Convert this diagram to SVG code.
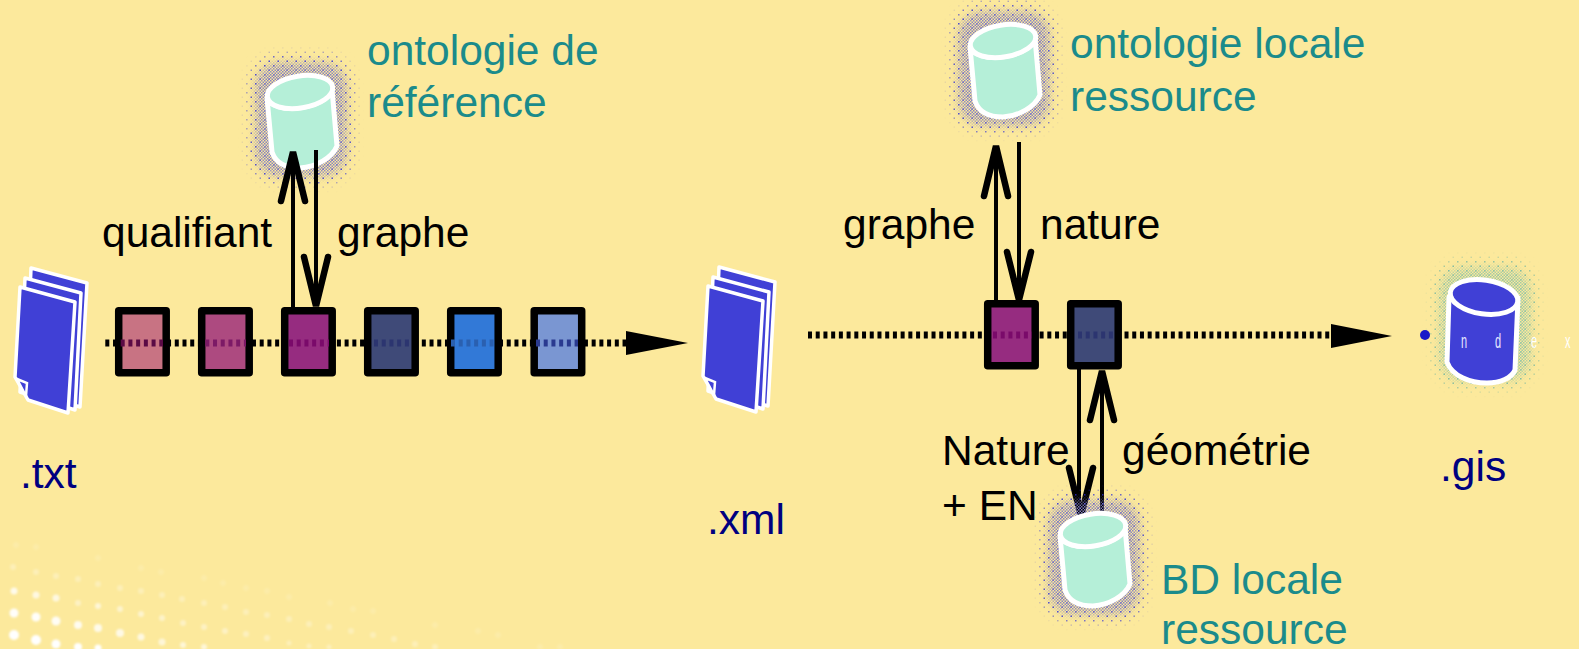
<svg xmlns="http://www.w3.org/2000/svg" width="1579" height="649" viewBox="0 0 1579 649">
<style>
text{font-family:"Liberation Sans",Arial,sans-serif;font-size:42.5px}
.blk{fill:#000}.teal{fill:#1b8b8b}.navy{fill:#000080}
.sq{stroke:#000;stroke-width:7.5;stroke-linejoin:round}
.dot{fill:none;stroke:#000;stroke-width:7;stroke-dasharray:4 3.72}
.in{fill:none;stroke-width:7;stroke-dasharray:4 3.72}
.sh{fill:none;stroke:#000;stroke-width:4}
.hd{fill:none;stroke:#000;stroke-width:6.5;stroke-linecap:round;stroke-linejoin:miter}
.page{fill:#3f3fd6;stroke:#fff;stroke-width:3.5;stroke-linejoin:round}
.bodyc{fill:#b5efd8;stroke:#fff;stroke-width:5;stroke-linejoin:round}
.idx{fill:#3f3fd6;stroke:#fff;stroke-width:5;stroke-linejoin:round}
</style>
<defs>
<pattern id="chk" width="3" height="3" patternUnits="userSpaceOnUse"><rect width="1.5" height="1.5" fill="#8480c4"/><rect x="1.5" y="1.5" width="1.5" height="1.5" fill="#8480c4"/></pattern>
<pattern id="spr" width="9" height="9" patternUnits="userSpaceOnUse"><rect width="1.5" height="1.5" fill="#2a2ad8"/><rect x="4.5" y="4.5" width="1.5" height="1.5" fill="#2a2ad8"/></pattern>
<pattern id="chkT" width="3" height="3" patternUnits="userSpaceOnUse"><rect width="1.5" height="1.5" fill="#9cc8a8"/><rect x="1.5" y="1.5" width="1.5" height="1.5" fill="#9cc8a8"/></pattern>
<pattern id="sprT" width="9" height="9" patternUnits="userSpaceOnUse"><rect width="1.5" height="1.5" fill="#6fb4a0"/><rect x="4.5" y="4.5" width="1.5" height="1.5" fill="#6fb4a0"/></pattern>
<filter id="b1" x="-50%" y="-50%" width="200%" height="200%"><feGaussianBlur stdDeviation="0.9"/></filter>
<filter id="b2" x="-5%" y="-5%" width="110%" height="110%"><feGaussianBlur stdDeviation="0.5"/></filter>
<filter id="b6" x="-30%" y="-30%" width="160%" height="160%"><feGaussianBlur stdDeviation="4"/></filter>
<mask id="mk" maskUnits="userSpaceOnUse" x="-70" y="-60" width="140" height="175"><rect x="-44" y="-29" width="90" height="113" rx="24" fill="#fff" filter="url(#b6)"/></mask>
<mask id="mk2" maskUnits="userSpaceOnUse" x="-70" y="-60" width="140" height="175"><rect x="-52" y="-38" width="106" height="130" rx="30" fill="#fff" filter="url(#b6)"/></mask>
<g id="cyl">
<rect x="-70" y="-60" width="140" height="175" fill="url(#spr)" mask="url(#mk2)"/>
<rect x="-70" y="-60" width="140" height="175" fill="url(#chk)" mask="url(#mk)"/>
<g filter="url(#b2)">
<path class="bodyc" d="M-33 6L-28 60C-24 72 -12 76 0 76C16 75 32 66 37 54L32 -3A33 16 -9 0 1 -33 6Z"/>
<ellipse class="bodyc" cx="0" cy="0" rx="33" ry="16" transform="rotate(-9)"/>
</g>
</g>
<g id="file" filter="url(#b2)">
<path class="page" d="M31 268L87 283L80 407L26 390Z"/>
<path class="page" d="M25 278L81 293L75 410L20 392Z"/>
<path class="page" d="M20 287L75 302L68 413L28 400L15 377Z"/>
<path d="M17 379L27 383L26 396Z" fill="#3f3fd6" stroke="#fff" stroke-width="2.5"/>
</g>
</defs>
<rect id="background" width="1579" height="649" fill="#fce99c"/>
<g id="speckle" fill="#fff" filter="url(#b1)">
<circle cx="14" cy="635" r="5"/><circle cx="36" cy="640" r="5"/><circle cx="56" cy="644" r="4.5"/><circle cx="78" cy="647" r="4"/><circle cx="98" cy="648" r="3.5"/>
<circle cx="14" cy="613" r="4.5" opacity=".95"/><circle cx="36" cy="617" r="4.5" opacity=".95"/><circle cx="56" cy="621" r="4.5" opacity=".9"/><circle cx="78" cy="625" r="4" opacity=".85"/><circle cx="98" cy="628" r="4" opacity=".8"/><circle cx="120" cy="633" r="4" opacity=".75"/><circle cx="141" cy="637" r="3.5" opacity=".7"/><circle cx="162" cy="642" r="3.5" opacity=".6"/><circle cx="183" cy="645" r="3" opacity=".6"/><circle cx="204" cy="647" r="3" opacity=".6"/>
<circle cx="14" cy="591" r="3.5" opacity=".8"/><circle cx="36" cy="595" r="3.5" opacity=".7"/><circle cx="56" cy="598" r="3.5" opacity=".7"/><circle cx="78" cy="603" r="3" opacity=".4"/><circle cx="98" cy="606" r="3" opacity=".6"/><circle cx="120" cy="609" r="3" opacity=".5"/><circle cx="141" cy="614" r="3" opacity=".5"/><circle cx="162" cy="618" r="3" opacity=".45"/><circle cx="183" cy="623" r="3" opacity=".4"/><circle cx="204" cy="627" r="3" opacity=".4"/><circle cx="225" cy="631" r="3" opacity=".4"/><circle cx="246" cy="634" r="3" opacity=".35"/><circle cx="267" cy="638" r="3" opacity=".35"/><circle cx="289" cy="643" r="2.5" opacity=".3"/><circle cx="309" cy="646" r="2.5" opacity=".3"/><circle cx="329" cy="647" r="2.5" opacity=".3"/>
<g opacity=".28"><circle cx="13" cy="567" r="3"/><circle cx="36" cy="572" r="3"/><circle cx="56" cy="576" r="3"/><circle cx="78" cy="579" r="3"/><circle cx="98" cy="584" r="3"/><circle cx="120" cy="588" r="3"/><circle cx="141" cy="591" r="3"/><circle cx="162" cy="595" r="3"/><circle cx="182" cy="599" r="3"/><circle cx="204" cy="603" r="3"/><circle cx="225" cy="607" r="3"/><circle cx="246" cy="612" r="3"/><circle cx="267" cy="615" r="3"/><circle cx="289" cy="619" r="3"/><circle cx="309" cy="624" r="3"/><circle cx="329" cy="627" r="3"/><circle cx="351" cy="631" r="3"/><circle cx="373" cy="635" r="3"/><circle cx="394" cy="639" r="3"/><circle cx="415" cy="644" r="3"/><circle cx="435" cy="647" r="3"/></g>
<g opacity=".12"><circle cx="16" cy="545" r="3"/><circle cx="36" cy="547" r="3"/><circle cx="98" cy="558" r="3"/><circle cx="141" cy="568" r="3"/><circle cx="161" cy="572" r="3"/><circle cx="204" cy="578" r="3"/><circle cx="223" cy="583" r="3"/><circle cx="246" cy="588" r="3"/><circle cx="267" cy="591" r="3"/><circle cx="289" cy="597" r="3"/><circle cx="330" cy="603" r="3"/><circle cx="353" cy="609" r="3"/><circle cx="373" cy="611" r="3"/><circle cx="435" cy="625" r="3"/><circle cx="478" cy="631" r="3"/><circle cx="498" cy="635" r="3"/><circle cx="540" cy="647" r="3"/><circle cx="560" cy="647" r="3"/></g>
</g>
<g id="node-txt"><use href="#file"/><text class="navy" x="20" y="488">.txt</text></g>
<g id="node-xml"><use href="#file" x="688" y="-1"/><text class="navy" x="707" y="534">.xml</text></g>
<g id="node-ontologie-reference"><use href="#cyl" x="300" y="92"/><text class="teal" x="367" y="65">ontologie de</text><text class="teal" x="367" y="117">référence</text></g>
<g id="node-ontologie-locale"><use href="#cyl" x="1003" y="41"/><text class="teal" x="1070" y="58">ontologie locale</text><text class="teal" x="1070" y="111">ressource</text></g>
<g id="node-gis">
<g transform="translate(1484 297)"><rect x="-70" y="-60" width="140" height="175" fill="url(#sprT)" mask="url(#mk2)"/><rect x="-70" y="-60" width="140" height="175" fill="url(#chkT)" mask="url(#mk)"/></g>
<g filter="url(#b2)">
<path class="idx" d="M1449 297L1447 362C1452 376 1470 383 1487 383C1500 383 1512 378 1515 370L1518 298Z"/>
<ellipse class="idx" cx="1484" cy="297" rx="34" ry="17" transform="rotate(8 1484 297)"/>
</g>
<circle cx="1425" cy="335" r="5" fill="#1a1ac8"/>
<text transform="translate(1461 348) scale(.55 1)" style="font-size:20px" fill="#e8e8ff">n</text><text transform="translate(1495 348) scale(.55 1)" style="font-size:20px" fill="#e8e8ff">d</text><text transform="translate(1531 348) scale(.55 1)" style="font-size:20px" fill="#fff">e</text><text transform="translate(1565 348) scale(.55 1)" style="font-size:20px" fill="#fff">x</text>
<text class="navy" x="1440" y="481">.gis</text>
</g>
<g id="connectors">
<line class="dot" x1="105.3" y1="343" x2="630" y2="343"/>
<path d="M626 331L688 343L626 355Z" fill="#000"/>
<line class="dot" x1="808" y1="335" x2="1332" y2="335"/>
<path d="M1331 324L1392 336L1331 348Z" fill="#000"/>
<line class="sh" x1="293" y1="307" x2="293" y2="160"/>
<path class="hd" d="M281 201L293 152L305 201"/>
<line class="sh" x1="316" y1="150" x2="316" y2="300"/>
<path class="hd" d="M304 257L316 306L328 257"/>
<line class="sh" x1="996" y1="300" x2="996" y2="155"/>
<path class="hd" d="M984 196L996 146L1008 196"/>
<line class="sh" x1="1019" y1="142" x2="1019" y2="295"/>
<path class="hd" d="M1007 252L1019 300L1031 252"/>
<line class="sh" x1="1079" y1="369" x2="1079" y2="510"/>
<path class="hd" d="M1069 468L1081 516L1093 468"/>
<line class="sh" x1="1102" y1="374" x2="1102" y2="512"/>
<path class="hd" d="M1090 420L1102 371L1114 420"/>
</g>
<g id="node-bd-locale"><use href="#cyl" x="1093" y="530"/><text class="teal" x="1161" y="594">BD locale</text><text class="teal" x="1161" y="644">ressource</text></g>
<g id="step-1"><rect class="sq" x="118.7" y="310.7" width="47.5" height="62" fill="#c87383"/><line class="in" x1="120.7" y1="343" x2="163" y2="343" stroke="#5a0a45"/></g>
<g id="step-2"><rect class="sq" x="201.7" y="310.7" width="47.5" height="62" fill="#ad4a80"/><line class="in" x1="205.3" y1="343" x2="246" y2="343" stroke="#7c1a66"/></g>
<g id="step-3"><rect class="sq" x="284.7" y="310.7" width="47.5" height="62" fill="#962c80"/><line class="in" x1="289" y1="343" x2="329" y2="343" stroke="#7a0a6a"/></g>
<g id="step-4"><rect class="sq" x="367.7" y="310.7" width="47.5" height="62" fill="#3f4a78"/><line class="in" x1="374" y1="343" x2="412" y2="343" stroke="#2c3570"/></g>
<g id="step-5"><rect class="sq" x="450.7" y="310.7" width="47.5" height="62" fill="#3279d7"/><line class="in" x1="451" y1="343" x2="495" y2="343" stroke="#2a60b0"/></g>
<g id="step-6"><rect class="sq" x="534.2" y="310.7" width="47.5" height="62" fill="#7a96d2"/><line class="in" x1="536" y1="343" x2="578" y2="343" stroke="#2a3a90"/></g>
<g id="step-7"><rect class="sq" x="987.7" y="303.7" width="47.5" height="62" fill="#962c80"/><line class="in" x1="993" y1="335" x2="1032" y2="335" stroke="#7a0a6a"/></g>
<g id="step-8"><rect class="sq" x="1070.7" y="303.7" width="47.5" height="62" fill="#3f4a78"/><line class="in" x1="1078" y1="335" x2="1115" y2="335" stroke="#2c3570"/></g>
<g id="labels">
<text class="blk" x="102" y="247">qualifiant</text>
<text class="blk" x="337" y="247">graphe</text>
<text class="blk" x="843" y="239">graphe</text>
<text class="blk" x="1040" y="239">nature</text>
<text class="blk" x="942" y="465">Nature</text>
<text class="blk" x="942" y="520">+ EN</text>
<text class="blk" x="1122" y="465">géométrie</text>
</g>
</svg>
